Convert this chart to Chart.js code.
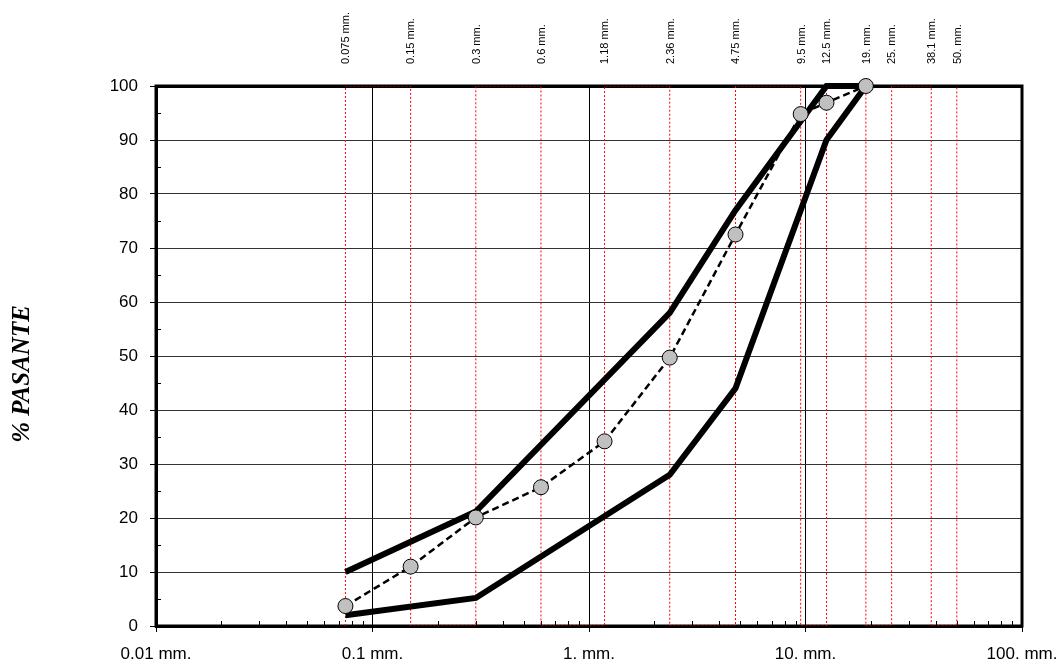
<!DOCTYPE html>
<html>
<head>
<meta charset="utf-8">
<script src="https://cdn.jsdelivr.net/npm/chart.js@4/dist/chart.umd.min.js"></script>
<style>
  body { margin: 0; background: #fff; }
  #chart { display: block; }
</style>
</head>
<body>
<canvas id="chart" width="1060" height="662"></canvas>
<script>
// sieve openings (mm) shown on the top axis
const sieves = [0.075, 0.15, 0.3, 0.6, 1.18, 2.36, 4.75, 9.5, 12.5, 19, 25, 38.1, 50];
const sieveLabels = ["0.075 mm.", "0.15 mm.", "0.3 mm.", "0.6 mm.", "1.18 mm.", "2.36 mm.", "4.75 mm.",
  "9.5 mm.", "12.5 mm.", "19. mm.", "25. mm.", "38.1 mm.", "50. mm."];

// bottom axis
const decades = [0.01, 0.1, 1, 10, 100];
const decadeLabels = ["0.01 mm.", "0.1 mm.", "1. mm.", "10. mm.", "100. mm."];
const yTicks = [0, 10, 20, 30, 40, 50, 60, 70, 80, 90, 100];

// sample gradation (% passing)
const sampleSizes = [0.075, 0.15, 0.3, 0.6, 1.18, 2.36, 4.75, 9.5, 12.5, 19];
const samplePassing = [3.7, 11, 20.1, 25.7, 34.2, 49.7, 72.5, 94.8, 96.9, 100];

// specification limits
const upperSizes = [0.075, 0.3, 2.36, 4.75, 12.5, 19];
const upperPassing = [10, 21.2, 58, 77, 100, 100];
const lowerSizes = [0.075, 0.3, 2.36, 4.75, 12.5, 19];
const lowerPassing = [2, 5.2, 28, 44, 90, 100];

function pts(xs, ys) {
  return xs.map((x, i) => ({ x: x, y: ys[i] }));
}

// red guide lines at each sieve, joined alternately at bottom and top
const guide = [];
sieves.forEach((s, i) => {
  if (i % 2 === 0) { guide.push({ x: s, y: 0 }, { x: s, y: 100 }); }
  else { guide.push({ x: s, y: 100 }, { x: s, y: 0 }); }
});

const frameAndMinor = {
  id: "frameAndMinor",
  beforeDatasetsDraw(chart) {
    const ctx = chart.ctx;
    const a = chart.chartArea;
    const xs = chart.scales.x;
    const ys = chart.scales.y;
    ctx.save();
    ctx.strokeStyle = "#000";
    ctx.lineWidth = 1;
    ctx.beginPath();
    // minor ticks inside the bottom axis
    for (let d = 0; d < decades.length - 1; d++) {
      for (let m = 2; m <= 9; m++) {
        const px = Math.round(xs.getPixelForValue(decades[d] * m)) + 0.5;
        ctx.moveTo(px, a.bottom);
        ctx.lineTo(px, a.bottom - 5);
      }
    }
    // minor ticks inside the left axis
    for (let v = 5; v < 100; v += 10) {
      const py = Math.round(ys.getPixelForValue(v)) + 0.5;
      ctx.moveTo(a.left, py);
      ctx.lineTo(a.left + 5, py);
    }
    ctx.stroke();
    ctx.lineWidth = 3;
    ctx.strokeRect(a.left, a.top, a.right - a.left, a.bottom - a.top);
    ctx.restore();
  },
  afterDraw(chart) {
    const ctx = chart.ctx;
    ctx.save();
    ctx.translate(23, 374);
    ctx.rotate(-Math.PI / 2);
    ctx.font = "italic bold 25px 'Liberation Serif'";
    ctx.fillStyle = "#000";
    ctx.textAlign = "center";
    ctx.textBaseline = "middle";
    ctx.fillText("% PASANTE", 0, 0);
    ctx.restore();
  }
};

function noSidePadding(scale) {
  scale.paddingLeft = 0;
  scale.paddingRight = 0;
}

const ctx = document.getElementById("chart").getContext("2d");
const chart = new Chart(ctx, {
  type: "scatter",
  data: {
    datasets: [
      {
        label: "Muestra",
        data: pts(sampleSizes, samplePassing),
        showLine: true,
        borderColor: "#000",
        borderWidth: 2.5,
        borderDash: [7, 4],
        pointRadius: 7.5,
        pointBackgroundColor: "#c0c0c0",
        pointBorderColor: "#000",
        pointBorderWidth: 1,
        clip: false
      },
      {
        label: "Limite superior",
        data: pts(upperSizes, upperPassing),
        showLine: true,
        borderColor: "#000",
        borderWidth: 6,
        pointRadius: 0,
        clip: false
      },
      {
        label: "Limite inferior",
        data: pts(lowerSizes, lowerPassing),
        showLine: true,
        borderColor: "#000",
        borderWidth: 6,
        pointRadius: 0,
        clip: false
      },
      {
        label: "Tamices",
        data: guide,
        showLine: true,
        borderColor: "#ff0000",
        borderWidth: 1,
        borderDash: [2, 2],
        pointRadius: 0
      }
    ]
  },
  options: {
    responsive: false,
    animation: false,
    layout: { padding: { left: 0, right: 38, top: 0, bottom: 0 } },
    plugins: {
      legend: { display: false },
      tooltip: { enabled: false }
    },
    scales: {
      x: {
        type: "logarithmic",
        position: "bottom",
        min: 0.01,
        max: 100,
        afterBuildTicks: (scale) => { scale.ticks = decades.map(v => ({ value: v })); },
        afterFit: (scale) => { scale.height = 36; noSidePadding(scale); },
        ticks: {
          autoSkip: false,
          maxRotation: 0,
          padding: 12,
          color: "#000",
          font: { family: "'Liberation Sans'", size: 17 },
          callback: (v) => decadeLabels[decades.indexOf(v)]
        },
        grid: { color: "#000", lineWidth: 1, tickLength: 6, tickColor: "#000" },
        border: { display: true, color: "#000", width: 3 }
      },
      x2: {
        type: "logarithmic",
        position: "top",
        min: 0.01,
        max: 100,
        afterBuildTicks: (scale) => { scale.ticks = sieves.map(v => ({ value: v })); },
        afterFit: (scale) => { scale.height = 86; noSidePadding(scale); },
        ticks: {
          autoSkip: false,
          minRotation: 90,
          maxRotation: 90,
          padding: 22,
          labelOffset: 14,
          color: "#000",
          font: { family: "'Liberation Sans'", size: 11 },
          callback: (v) => sieveLabels[sieves.indexOf(v)]
        },
        grid: { display: false, drawTicks: false },
        border: { display: true, color: "#000", width: 3 }
      },
      y: {
        min: 0,
        max: 100,
        afterBuildTicks: (scale) => { scale.ticks = yTicks.map(v => ({ value: v })); },
        afterFit: (scale) => { scale.width = 156; },
        ticks: {
          padding: 12,
          color: "#000",
          font: { family: "'Liberation Sans'", size: 17 }
        },
        grid: { color: "#333", lineWidth: 1, tickLength: 6, tickColor: "#000" },
        border: { display: true, color: "#000", width: 3 }
      }
    }
  },
  plugins: [frameAndMinor]
});
</script>
</body>
</html>
